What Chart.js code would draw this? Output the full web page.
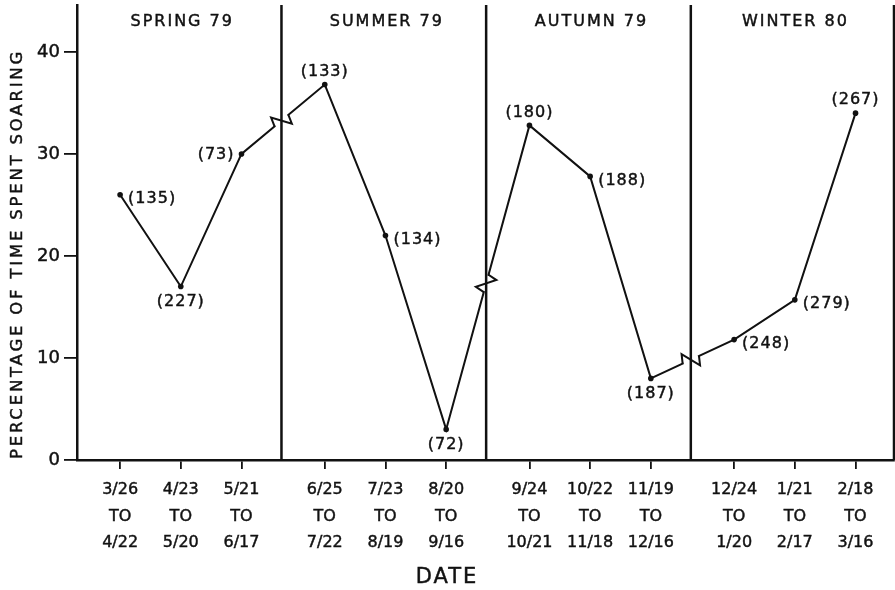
<!DOCTYPE html>
<html>
<head>
<meta charset="utf-8">
<script src="https://cdn.jsdelivr.net/npm/chart.js@4.4.1/dist/chart.umd.min.js"></script>
<style>
  body { margin: 0; background: #fff; }
</style>
</head>
<body>
<canvas id="soaring" width="895" height="590"></canvas>
<script>
// periods, seasons and values
var periodStart = ["3/26", "4/23", "5/21", "6/25", "7/23", "8/20", "9/24", "10/22", "11/19", "12/24", "1/21", "2/18"];
var periodEnd = ["4/22", "5/20", "6/17", "7/22", "8/19", "9/16", "10/21", "11/18", "12/16", "1/20", "2/17", "3/16"];
var seasons = ["SPRING 79", "SUMMER 79", "AUTUMN 79", "WINTER 80"];
var seasonOf = [0, 0, 0, 1, 1, 1, 2, 2, 2, 3, 3, 3];
var pctSoaring = [26, 17, 30, 36.8, 22, 3, 32.8, 27.8, 8, 11.8, 15.7, 34];
var sampleSize = [135, 227, 73, 133, 134, 72, 180, 188, 187, 248, 279, 267];
var yTicks = [0, 10, 20, 30, 40];

// where the (n) label sits next to its point
var labelSide = ["right", "below", "left", "above", "right", "below", "above", "right", "below", "right", "right", "above"];

var FONT = "DejaVu Sans";
var INK = "#111";
var SEASON_GAP = 0.372; // extra space between seasons, in period units

var xPos = seasonOf.map(function (s, i) { return i + s * SEASON_GAP; });

function spacedText(ctx, text, x, y, size, spacing, align) {
    ctx.save();
    ctx.font = size + "px '" + FONT + "'";
    ctx.letterSpacing = spacing + "px";
    ctx.fillStyle = INK;
    ctx.strokeStyle = INK;
    ctx.lineWidth = 0.45;
    ctx.textAlign = align || "center";
    ctx.textBaseline = "middle";
    ctx.fillText(text, x, y);
    ctx.strokeText(text, x, y);
    ctx.restore();
}

// separators, axis breaks, season names, point labels, axis titles
var decorations = {
    id: "decorations",
    afterDatasetsDraw: function (chart) {
        var ctx = chart.ctx;
        var area = chart.chartArea;
        var xs = chart.scales.x;
        var pts = chart.getDatasetMeta(0).data;
        var bounds = [area.left];

        for (var i = 0; i < xPos.length - 1; i++) {
            if (seasonOf[i] === seasonOf[i + 1]) continue;
            var sx = xs.getPixelForValue(xPos[i] + 0.48 * (xPos[i + 1] - xPos[i]));
            bounds.push(sx);

            var a = pts[i], b = pts[i + 1];
            var dx = b.x - a.x, dy = b.y - a.y;
            var len = Math.hypot(dx, dy);
            var ux = dx / len, uy = dy / len;
            var nx = uy, ny = -ux;
            var t = (sx - a.x) / dx;
            var px = a.x + t * dx, py = a.y + t * dy;
            var h = 9, amp = 9;

            ctx.save();
            ctx.strokeStyle = "#fff";
            ctx.lineWidth = 5;
            ctx.beginPath();
            ctx.moveTo(px - (h - 1) * ux, py - (h - 1) * uy);
            ctx.lineTo(px + (h - 1) * ux, py + (h - 1) * uy);
            ctx.stroke();

            ctx.strokeStyle = INK;
            ctx.lineWidth = 2;
            ctx.lineJoin = "miter";
            ctx.beginPath();
            ctx.moveTo(px - h * ux, py - h * uy);
            ctx.lineTo(px - (h - 3) * ux + amp * nx, py - (h - 3) * uy + amp * ny);
            ctx.lineTo(px + (h - 3) * ux - amp * nx, py + (h - 3) * uy - amp * ny);
            ctx.lineTo(px + h * ux, py + h * uy);
            ctx.stroke();
            ctx.restore();
        }
        bounds.push(area.right);

        ctx.save();
        ctx.strokeStyle = INK;
        ctx.lineWidth = 2.5;
        ctx.beginPath();
        for (var k = 1; k < bounds.length; k++) {
            ctx.moveTo(bounds[k], area.top);
            ctx.lineTo(bounds[k], area.bottom);
        }
        ctx.stroke();
        ctx.restore();

        seasons.forEach(function (name, s) {
            spacedText(ctx, name, (bounds[s] + bounds[s + 1]) / 2 + 3, 22, 16, 2);
        });

        pts.forEach(function (p, i) {
            var txt = "(" + sampleSize[i] + ")";
            var side = labelSide[i];
            if (side === "right") spacedText(ctx, txt, p.x + 8, p.y + 4, 16, 1, "left");
            else if (side === "left") spacedText(ctx, txt, p.x - 7, p.y + 1, 16, 1, "right");
            else if (side === "above") spacedText(ctx, txt, p.x, p.y - 13, 16, 1);
            else spacedText(ctx, txt, p.x, p.y + 15, 16, 1);
        });

        ctx.save();
        ctx.translate(18, 254);
        ctx.rotate(-Math.PI / 2);
        spacedText(ctx, "PERCENTAGE OF TIME SPENT SOARING", 0, 0, 16.5, 2.8);
        ctx.restore();

        spacedText(ctx, "DATE", 447, 578, 21, 2);
    }
};

new Chart(document.getElementById("soaring"), {
    type: "line",
    data: {
        datasets: [
            {
                data: xPos.map(function (x, i) { return { x: x, y: pctSoaring[i] }; }),
                borderColor: INK,
                borderWidth: 2,
                pointRadius: 2.8,
                pointBackgroundColor: INK,
                pointBorderWidth: 0,
                tension: 0,
            },
        ],
    },
    options: {
        responsive: false,
        animation: false,
        events: [],
        layout: { autoPadding: false, padding: { top: 5, right: 1, left: 0, bottom: 0 } },
        plugins: { legend: { display: false }, tooltip: { enabled: false } },
        scales: {
            x: {
                type: "linear",
                min: -0.71,
                max: 12.75,
                afterBuildTicks: function (s) { s.ticks = xPos.map(function (v) { return { value: v }; }); },
                afterFit: function (s) { s.height = 130; s.paddingLeft = 0; s.paddingRight = 0; },
                ticks: {
                    autoSkip: false,
                    maxRotation: 0,
                    padding: 8,
                    color: INK,
                    textStrokeColor: INK,
                    textStrokeWidth: 0.45,
                    font: { family: FONT, size: 16, lineHeight: 1.65 },
                    callback: function (v, i) { return [periodStart[i], "TO", periodEnd[i]]; },
                },
                grid: { drawOnChartArea: false, drawTicks: true, tickLength: 9, color: INK, lineWidth: 1.8 },
                border: { display: true, color: INK, width: 2.5 },
            },
            y: {
                min: 0,
                max: 44.6,
                afterBuildTicks: function (s) { s.ticks = yTicks.map(function (v) { return { value: v }; }); },
                afterFit: function (s) { s.width = 77; s.paddingTop = 0; s.paddingBottom = 0; },
                ticks: {
                    padding: 4,
                    color: INK,
                    textStrokeColor: INK,
                    textStrokeWidth: 0.45,
                    font: { family: FONT, size: 18 },
                },
                grid: { drawOnChartArea: false, drawTicks: true, tickLength: 13, color: INK, lineWidth: 1.8 },
                border: { display: true, color: INK, width: 2.5 },
            },
        },
    },
    plugins: [decorations],
});
</script>
</body>
</html>
